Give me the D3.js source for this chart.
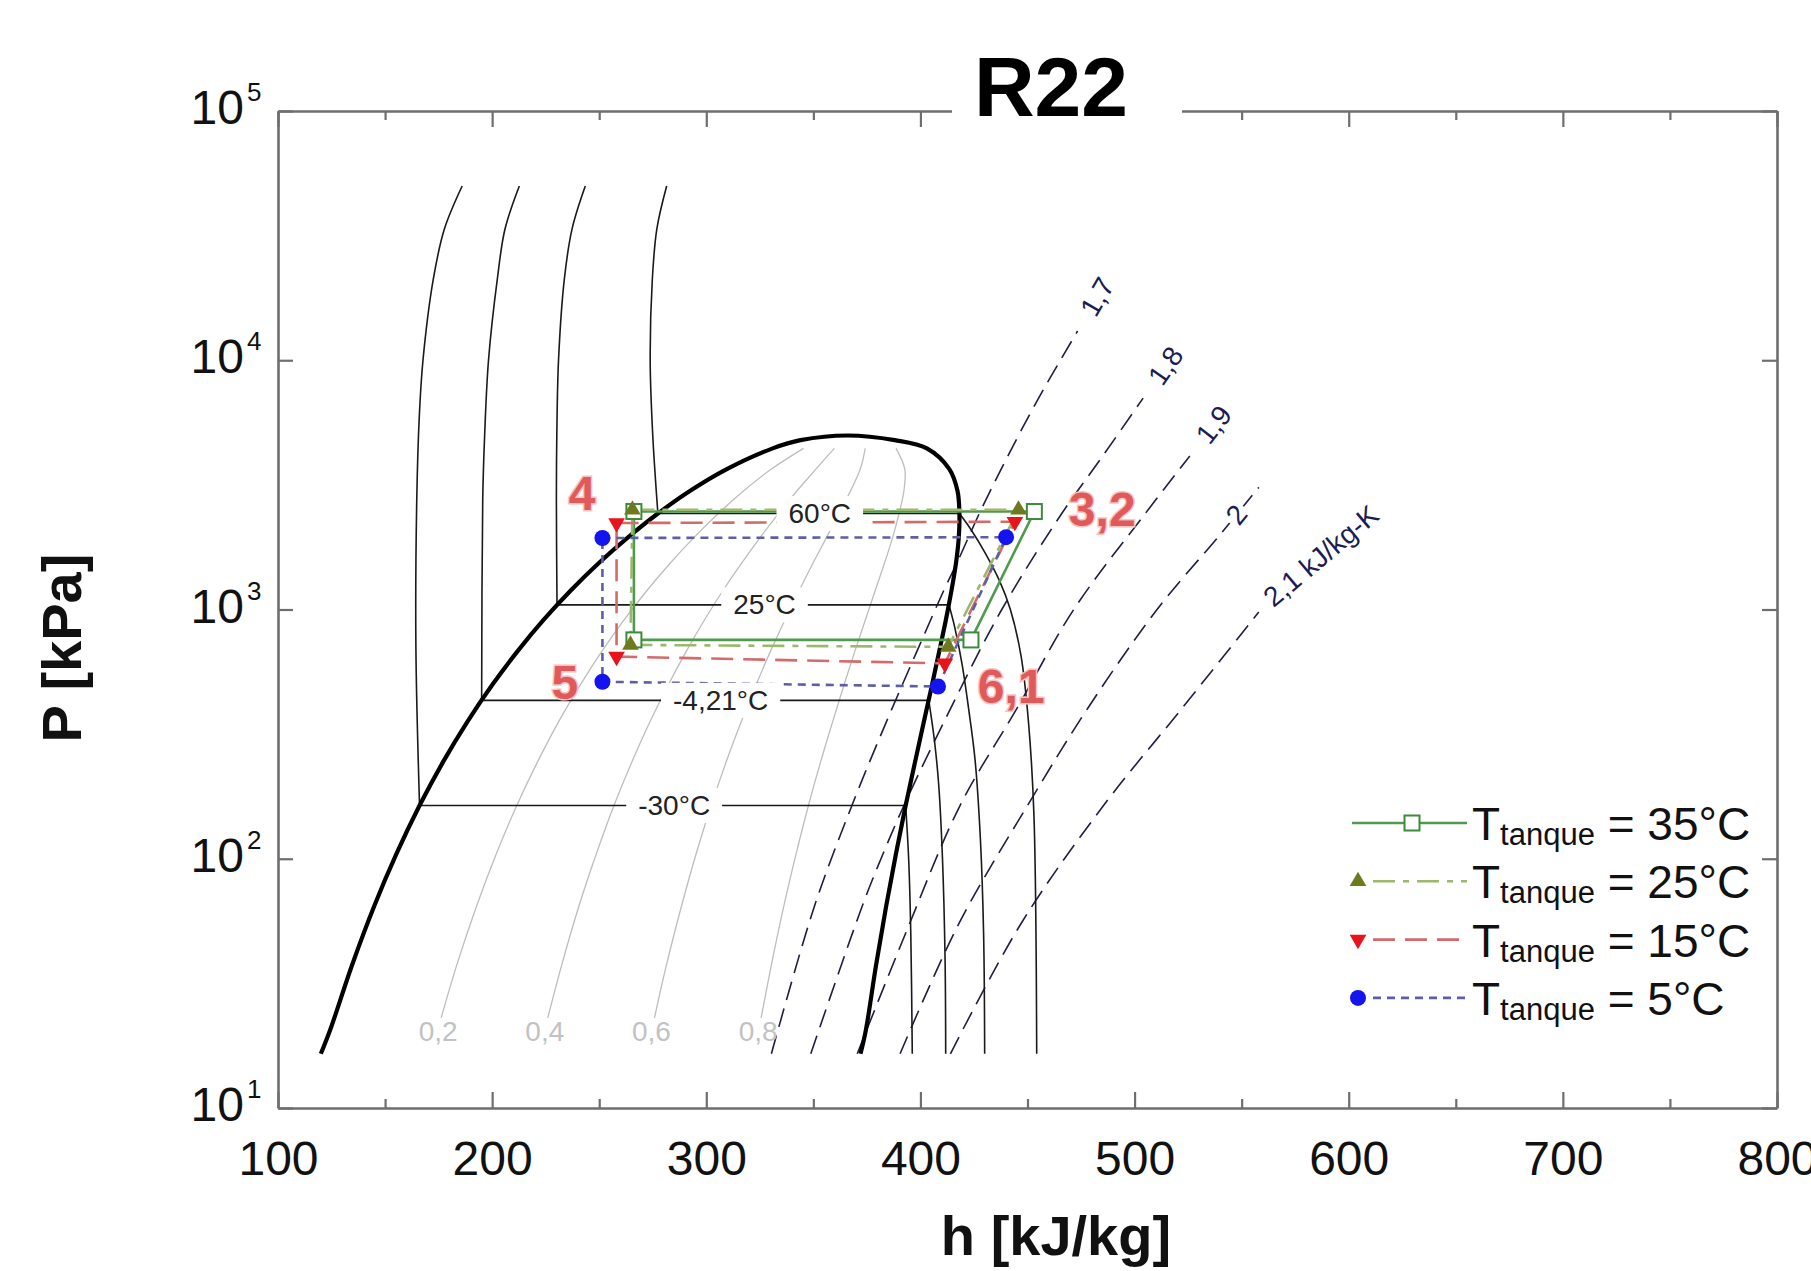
<!DOCTYPE html>
<html>
<head>
<meta charset="utf-8">
<script src="https://cdn.jsdelivr.net/npm/d3@7"></script>
<style>
  body { margin: 0; background: #fff; }
  svg { font-family: "Liberation Sans", Arial, sans-serif; }
</style>
</head>
<body>
<svg id="chart" width="1811" height="1271"></svg>
<script>
// every point is [h in kJ/kg, P in kPa]
const satLiquid = [[120, 16.5], [124.3, 20.5], [134.6, 37.5], [144.9, 64.5], [155.4, 105], [166.1, 163.5],
  [177.1, 244.8], [188.4, 354.3], [200, 497.6], [211.9, 680.7], [224.1, 909.9], [236.7, 1191.9],
  [249.7, 1533.5], [263.3, 1942.3], [277.4, 2426.6], [292.5, 2996], [309.6, 3659], [331, 4430],
  [344, 4780], [366, 4990]];
const satVapor = [[366, 4990], [388, 4780], [403, 4430], [413.5, 3659], [417.3, 2996], [418.2, 2426.6],
  [417.9, 1942.3], [416.6, 1533.5], [414.5, 1191.9], [411.9, 909.9], [408.8, 680.7], [405.4, 497.6],
  [401.6, 354.3], [397.5, 244.8], [393.1, 163.5], [388.6, 105], [384, 64.5], [379.3, 37.5],
  [374.5, 20.5], [372, 16.5]];

const isothermNames = ["-30°C", "-4,21°C", "25°C", "60°C"];
const isothermSat = [[166.1, 393.1, 163.5], [195.1, 403.9, 432], [230.3, 413.3, 1044], [277.4, 418.2, 2427]];
const isothermLabelH = [285, 306.7, 327.2, 353];
const isothermLiquid = [
  [[186, 50000], [177.7, 33600], [172.5, 21100], [167.7, 10000], [166, 6000], [164.8, 2760], [164.4, 700], [166.1, 163.5]],
  [[212.7, 50000], [206, 33600], [202.4, 21100], [198.3, 10000], [196.5, 5000], [195.6, 2760], [195.1, 432]],
  [[243.5, 50000], [237.3, 33600], [233.7, 21100], [231, 10000], [230.2, 5000], [230, 2760], [230.3, 1044]],
  [[281.5, 50000], [276.9, 33600], [274.8, 21100], [273.8, 10000], [275, 5000], [277.4, 2427]]
];
const isothermVapor = [
  [[393.1, 163.5], [394.5, 100], [395.5, 50], [396.2, 16.5]],
  [[403.9, 432], [406.5, 300], [408.5, 200], [410.3, 100], [411.5, 40], [411.8, 16.5]],
  [[413.3, 1044], [416, 850], [419.5, 600], [422.5, 400], [425.5, 250], [428, 120], [429.5, 50], [430, 16.5]],
  [[418.2, 2427], [423.5, 2100], [430, 1700], [437, 1300], [442, 1000], [447, 650], [450.5, 350], [453, 150], [454.3, 16.5]]
];

const qualityNames = ["0,2", "0,4", "0,6", "0,8"];
const qualityP = [23, 37.5, 64.5, 105, 163.5, 244.8, 354.3, 497.6, 680.7, 909.9, 1191.9, 1533.5, 1942.3, 2426.6, 2996, 3659, 4430];
const qualityH = [
  [176.2, 183.5, 192.7, 202.0, 211.5, 221.2, 231.0, 241.1, 251.3, 261.7, 272.3, 283.1, 294.2, 305.6, 317.5, 330.4, 345.4],
  [226.0, 232.5, 240.5, 248.7, 256.9, 265.3, 273.7, 282.2, 290.7, 299.2, 307.8, 316.5, 325.1, 333.7, 342.4, 351.2, 359.8],
  [275.8, 281.4, 288.4, 295.3, 302.3, 309.3, 316.3, 323.2, 330.0, 336.8, 343.4, 349.8, 356.1, 361.9, 367.4, 371.9, 374.2],
  [325.6, 330.4, 336.2, 342.0, 347.7, 353.4, 359.0, 364.3, 369.4, 374.3, 378.9, 383.2, 387.0, 390.0, 392.3, 392.7, 388.6]
];

const entropyNames = ["1,7", "1,8", "1,9", "2", "2,1 kJ/kg-K"];
const entropyLines = [
  [[330.4, 16.5], [350.5, 64.5], [368, 163.5], [384.1, 354.3], [398.4, 680.7], [410.9, 1192], [417, 1533], [427.5, 2427], [440, 4000], [455, 7000], [473.4, 13100]],
  [[348.8, 16.5], [372.8, 64.5], [382.6, 105], [392.3, 163.5], [411, 354], [438, 1000], [466, 2427], [484, 4000], [504, 7050]],
  [[370.5, 16.5], [393, 50], [418.5, 163.5], [445, 400], [471.6, 1000], [505, 2427], [525.8, 4130]],
  [[390.5, 16.5], [418, 55], [450, 163.5], [478, 400], [510.5, 1000], [540, 2000], [558, 3090]],
  [[414, 16.5], [447, 55], [485.5, 163.5], [522, 400], [558, 977]]
];

const tankNames = ["35°C", "25°C", "15°C", "5°C"];
// corners of each cycle: 4, 3/2, 6/1, 5
const cycle35 = [[266.2, 2472], [453.2, 2472], [423.6, 755], [266.2, 755]];
const cycle25 = [[265.5, 2512], [445.8, 2512], [413, 708], [264.6, 721]];
const cycle15 = [[258.1, 2223], [444.1, 2250], [411.4, 608], [258.1, 647]];
const cycle5 = [[251.5, 1936], [440, 1950], [408.2, 491], [251.5, 513]];

const stateLabels = [["4", 242, 2924], ["3,2", 484.9, 2523], ["5", 234, 509], ["6,1", 442.4, 491]];

const xTicks = [100, 200, 300, 400, 500, 600, 700, 800];
const xMinorTicks = [150, 250, 350, 450, 550, 650, 750];
const yTicks = [10, 100, 1000, 10000, 100000];
const yTickExponents = ["1", "2", "3", "4", "5"];

const width = 1811;
const height = 1271;
const margin = { top: 111, right: 34, bottom: 163, left: 278 };

const x = d3.scaleLinear().domain([100, 800]).range([margin.left, width - margin.right]);
const y = d3.scaleLog().domain([10, 100000]).range([height - margin.bottom, margin.top]);

const svg = d3.select("#chart");

const smooth = d3.line().x((d) => x(d[0])).y((d) => y(d[1])).curve(d3.curveCatmullRom.alpha(0.5));
const straight = d3.line().x((d) => x(d[0])).y((d) => y(d[1]));

// quality lines
qualityH.forEach((hs) => {
  svg.append("path")
    .datum(hs.map((h, i) => [h, qualityP[i]]))
    .attr("fill", "none").attr("stroke", "#bdbdbd").attr("stroke-width", 1.3)
    .attr("d", smooth);
});

// isentropes
entropyLines.forEach((pts) => {
  svg.append("path")
    .datum(pts)
    .attr("fill", "none").attr("stroke", "#1e1e44").attr("stroke-width", 1.6)
    .attr("stroke-dasharray", "19,9")
    .attr("d", smooth);
});

// isotherms
isothermNames.forEach((name, i) => {
  const [hf, hg, p] = isothermSat[i];
  [isothermLiquid[i], isothermVapor[i]].forEach((pts) => {
    svg.append("path").datum(pts)
      .attr("fill", "none").attr("stroke", "#1a1a1a").attr("stroke-width", 1.6)
      .attr("d", smooth);
  });
  svg.append("path").datum([[hf, p], [hg, p]])
    .attr("fill", "none").attr("stroke", "#1a1a1a").attr("stroke-width", 1.6)
    .attr("d", straight);
});

// saturation dome
svg.append("path")
  .datum(satLiquid.concat(satVapor.slice(1)))
  .attr("fill", "none").attr("stroke", "#000").attr("stroke-width", 4.2)
  .attr("d", smooth);

// cycles
const cycles = [
  { pts: cycle35, color: "#4f9a4f", dash: null, marker: "square", mcolor: "#3c8a3c" },
  { pts: cycle25, color: "#9cb86c", dash: "22,8,6,8", marker: "up", mcolor: "#6f7a1e" },
  { pts: cycle15, color: "#d46a6a", dash: "22,10", marker: "down", mcolor: "#e8141c" },
  { pts: cycle5, color: "#5e5ea6", dash: "8,6", marker: "circle", mcolor: "#1414ee" }
];

function drawMarker(g, kind, color, cx, cy) {
  if (kind === "square") {
    g.append("rect").attr("x", cx - 7.5).attr("y", cy - 7.5).attr("width", 15).attr("height", 15)
      .attr("fill", "#fff").attr("stroke", color).attr("stroke-width", 2);
  } else if (kind === "circle") {
    g.append("circle").attr("cx", cx).attr("cy", cy).attr("r", 8).attr("fill", color);
  } else {
    g.append("path")
      .attr("d", d3.symbol().type(d3.symbolTriangle).size(120)())
      .attr("transform", `translate(${cx},${cy})${kind === "down" ? " rotate(180)" : ""}`)
      .attr("fill", color);
  }
}

cycles.forEach((c) => {
  svg.append("path")
    .datum(c.pts)
    .attr("fill", "none").attr("stroke", c.color).attr("stroke-width", 2.6)
    .attr("stroke-dasharray", c.dash)
    .attr("d", (d) => straight(d) + "Z");
});
cycles.forEach((c) => {
  const g = svg.append("g");
  c.pts.forEach((p) => drawMarker(g, c.marker, c.mcolor, x(p[0]), y(p[1])));
});

// label with white box
function boxedText(g, txt, attrs, pad) {
  const t = g.append("text").text(txt);
  Object.entries(attrs).forEach(([k, v]) => t.attr(k, v));
  const b = t.node().getBBox();
  g.insert("rect", "text")
    .attr("x", b.x - pad).attr("y", b.y - 2).attr("width", b.width + 2 * pad).attr("height", b.height + 4)
    .attr("fill", "#fff");
  return t;
}

isothermNames.forEach((name, i) => {
  const g = svg.append("g");
  boxedText(g, name, {
    x: x(isothermLabelH[i]), y: y(isothermSat[i][2]),
    "text-anchor": "middle", "dominant-baseline": "central",
    "font-size": 28, fill: "#222"
  }, 12);
});

// isentrope labels at each line end
const entropyOffsets = [20, 20, 20, -43, 14];
const entropyAngles = [null, null, null, null, -40];
entropyLines.forEach((pts, i) => {
  const a = pts[pts.length - 2];
  const b = pts[pts.length - 1];
  const x0 = x(a[0]), y0 = y(a[1]), x1 = x(b[0]), y1 = y(b[1]);
  const len = Math.hypot(x1 - x0, y1 - y0);
  const ux = (x1 - x0) / len, uy = (y1 - y0) / len;
  const ang = entropyAngles[i] ?? Math.atan2(uy, ux) * 180 / Math.PI;
  const g = svg.append("g")
    .attr("transform", `translate(${x1 + ux * entropyOffsets[i]},${y1 + uy * entropyOffsets[i]}) rotate(${ang})`);
  boxedText(g, entropyNames[i], {
    x: 0, y: 0, "dominant-baseline": "central", "font-size": 28, fill: "#1c1c55"
  }, 3);
});

qualityNames.forEach((name, i) => {
  svg.append("text")
    .attr("x", x(qualityH[i][0]) - 3).attr("y", 1041)
    .attr("text-anchor", "middle").attr("font-size", 28).attr("fill", "#c2c2c2")
    .text(name);
});

stateLabels.forEach(([txt, h, p]) => {
  svg.append("text")
    .attr("x", x(h)).attr("y", y(p))
    .attr("text-anchor", "middle").attr("dominant-baseline", "central")
    .attr("font-size", 48).attr("font-weight", "bold")
    .attr("fill", "#e05a5a").attr("stroke", "#f6c4c4").attr("stroke-width", 3)
    .attr("paint-order", "stroke")
    .text(txt);
});

// legend
const legend = svg.append("g");
tankNames.forEach((name, i) => {
  const ly = 823 + i * 58.3;
  const c = cycles[i];
  const lineStart = i === 0 ? 1352 : 1373;
  legend.append("line")
    .attr("x1", lineStart).attr("x2", 1467).attr("y1", ly).attr("y2", ly)
    .attr("stroke", c.color).attr("stroke-width", 2.6).attr("stroke-dasharray", c.dash);
  drawMarker(legend, c.marker, c.mcolor, i === 0 ? 1412 : 1358, ly);
  const t = legend.append("text").attr("x", 1472).attr("y", ly + 17)
    .attr("font-size", 46).attr("fill", "#111").style("white-space", "pre");
  t.append("tspan").text("T");
  t.append("tspan").attr("font-size", 31).attr("dy", 5).text("tanque");
  t.append("tspan").attr("dy", -5).text(" = " + name);
});

// axes
function styleAxis(g) {
  g.attr("font-family", null).attr("font-size", null);
  g.select(".domain").attr("stroke", "#6e6e6e").attr("stroke-width", 2.6);
  g.selectAll(".tick line").attr("stroke", "#6e6e6e").attr("stroke-width", 2.2);
}

const gx = svg.append("g").attr("transform", `translate(0,${y(10)})`)
  .call(d3.axisBottom(x).tickValues(xTicks).tickSize(-16).tickSizeOuter(0).tickPadding(33).tickFormat(d3.format("d")))
  .call(styleAxis);
gx.selectAll(".tick text").attr("font-size", 48).attr("fill", "#111");

svg.append("g").attr("transform", `translate(0,${y(10)})`)
  .call(d3.axisBottom(x).tickValues(xMinorTicks).tickSize(-9).tickFormat(() => ""))
  .call(styleAxis).call((g) => g.select(".domain").remove());

svg.append("g").attr("transform", `translate(0,${y(100000)})`)
  .call(d3.axisTop(x).tickValues(xTicks).tickSize(-16).tickSizeOuter(0).tickFormat(() => ""))
  .call(styleAxis);
svg.append("g").attr("transform", `translate(0,${y(100000)})`)
  .call(d3.axisTop(x).tickValues(xMinorTicks).tickSize(-9).tickFormat(() => ""))
  .call(styleAxis).call((g) => g.select(".domain").remove());

svg.append("g").attr("transform", `translate(${x(100)},0)`)
  .call(d3.axisLeft(y).tickValues(yTicks).tickSize(-15).tickSizeOuter(0).tickFormat(() => ""))
  .call(styleAxis);
svg.append("g").attr("transform", `translate(${x(800)},0)`)
  .call(d3.axisRight(y).tickValues(yTicks).tickSize(-15).tickSizeOuter(0).tickFormat(() => ""))
  .call(styleAxis);

yTicks.forEach((v, i) => {
  svg.append("text").attr("x", x(100) - 34).attr("y", y(v) + 13)
    .attr("text-anchor", "end").attr("font-size", 48).attr("fill", "#111").text("10");
  svg.append("text").attr("x", x(100) - 31).attr("y", y(v) - 10)
    .attr("font-size", 26).attr("fill", "#111").text(yTickExponents[i]);
});

svg.append("text")
  .attr("x", 1056).attr("y", 1255)
  .attr("text-anchor", "middle").attr("font-size", 56).attr("font-weight", "bold").attr("fill", "#111")
  .text("h [kJ/kg]");

svg.append("text")
  .attr("transform", "translate(81,648) rotate(-90)")
  .attr("text-anchor", "middle").attr("font-size", 56).attr("font-weight", "bold").attr("fill", "#111")
  .text("P [kPa]");

// title sits on a white box that breaks the top frame
svg.append("rect").attr("x", 952).attr("y", 30).attr("width", 230).attr("height", 102).attr("fill", "#fff");
svg.append("text")
  .attr("x", 1051).attr("y", 116)
  .attr("text-anchor", "middle").attr("font-size", 84).attr("font-weight", "bold").attr("fill", "#000")
  .text("R22");
</script>
</body>
</html>
